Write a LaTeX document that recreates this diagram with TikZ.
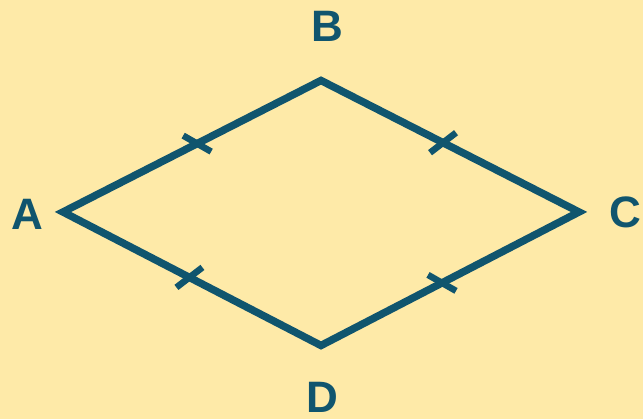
\documentclass[tikz,border=0pt]{standalone}
\usepackage{fontspec}
\setmainfont{Liberation Sans}
\usetikzlibrary{calc}
\definecolor{bgy}{RGB}{254,234,168}
\definecolor{teal}{RGB}{16,85,110}
\begin{document}
\begin{tikzpicture}[x=1pt,y=-1pt,
  edge/.style={draw=teal,line width=7.5pt,line join=miter},
  tick/.style={draw=teal,line width=6.5pt},
  lbl/.style={text=teal,font=\fontsize{44}{44}\selectfont\bfseries,inner sep=0pt}]
\fill[bgy] (0,0) rectangle (643,419);
\useasboundingbox (0,0) rectangle (643,419);
\coordinate (A) at (63,212);
\coordinate (B) at (321,80.5);
\coordinate (C) at (579,212);
\coordinate (D) at (321,345.5);
\draw[edge] (A) -- (B) -- (C) -- (D) -- cycle;
\coordinate (tab) at ($(A)!0.52!(B)$);
\coordinate (tad) at ($(A)!0.49!(D)$);
\coordinate (tbc) at ($(B)!0.473!(C)$);
\coordinate (tdc) at ($(D)!0.469!(C)$);
\draw[tick] ([shift={(-14,-8)}]tab) -- ([shift={(14,8)}]tab);
\draw[tick] ([shift={(-14,-8)}]tdc) -- ([shift={(14,8)}]tdc);
\draw[tick] ([shift={(-13,10)}]tad) -- ([shift={(13,-10)}]tad);
\draw[tick] ([shift={(-13,10)}]tbc) -- ([shift={(13,-10)}]tbc);
\node[lbl] (lA) at (27.5,214) {A};
\node[lbl] (lB) at (327.5,26.5) {B};
\node[lbl] (lC) at (625,212) {C};
\node[lbl] (lD) at (322.5,397) {D};
\end{tikzpicture}
\end{document}
